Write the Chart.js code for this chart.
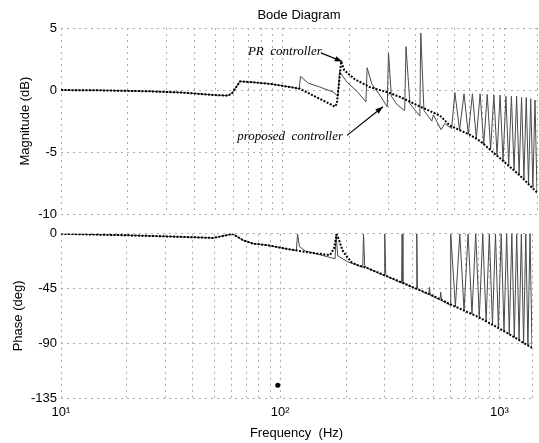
<!DOCTYPE html>
<html>
<head>
<meta charset="utf-8">
<script src="https://cdn.jsdelivr.net/npm/chart.js@4.4.1/dist/chart.umd.min.js"></script>
<style>
  html, body { margin: 0; padding: 0; background: #fff; }
  #wrap { position: relative; width: 539px; height: 443px; }
  #magBox { position: absolute; left: 0; top: 0; width: 539px; height: 226px; }
  #phaseBox { position: absolute; left: 0; top: 222px; width: 539px; height: 221px; }
</style>
</head>
<body>
<div id="wrap">
  <div id="magBox"><canvas id="magChart"></canvas></div>
  <div id="phaseBox"><canvas id="phaseChart"></canvas></div>
</div>
<script>
// PR controller, magnitude (dB)
const prMagFreq = [10, 15, 25, 35, 49.5, 56.8, 59.2, 64.3, 71.3, 87.6, 108, 120, 147, 165, 172, 176, 180, 184, 190, 212, 248, 300, 339, 420, 514, 570, 700, 779, 960, 1181, 1409];
const prMag = [0, -0.02, -0.1, -0.2, -0.4, -0.45, -0.25, 0.7, 0.65, 0.5, 0.25, 0.1, -0.7, -1.15, -1.35, -1.1, 0.6, 2.3, 1.6, 0.87, 0.24, -0.2, -0.55, -1.35, -2.06, -2.86, -3.6, -4.1, -5.5, -6.9, -8.25];

// proposed controller, magnitude (dB)
const propMagFreq = [10, 15, 25, 35, 49.5, 56.8, 59.2, 64.3, 71.3, 87.6, 108, 119, 120.5, 131, 147, 169, 178, 181, 195, 217, 238, 241, 253, 275, 297, 301, 310, 330, 356, 361, 376, 400, 417, 421, 435, 472, 480, 520, 540, 580,
  600, 630, 660, 690, 720, 750, 780, 810, 840, 870, 900, 930, 960, 990, 1020, 1050, 1080, 1110, 1140, 1170, 1200, 1230, 1260, 1290, 1320, 1350, 1380, 1409];
const propMag = [0, -0.02, -0.1, -0.2, -0.4, -0.45, -0.25, 0.7, 0.65, 0.5, 0.25, 0.1, 1.1, 0.55, 0.25, -0.15, -0.5, 1.5, 0.65, -0.1, -0.95, 1.8, 0.5, -0.4, -1.35, 3.0, -0.5, -1.2, -1.65, 3.5, -1.1, -1.7, -2.1, 4.6, -1.65, -2.5, -2.0, -3.2, -2.7, -3.1,
  -0.2, -3.2, -0.3, -3.55, -0.3, -3.9, -0.3, -4.35, -0.35, -4.75, -0.4, -5.25, -0.4, -5.7, -0.5, -6.05, -0.5, -6.4, -0.5, -6.8, -0.6, -7.15, -0.6, -7.5, -0.7, -7.85, -0.8, -8.3];

// PR controller, phase (deg)
const prPhaseFreq = [10, 20, 35, 49.5, 56.8, 60.5, 67.9, 75, 87.6, 108, 137, 160, 169, 176, 181, 186, 192, 202, 212, 225, 248, 306, 375, 499, 614, 800, 1060, 1409];
const prPhase = [0, -1.2, -2.5, -3.4, -1.2, 0, -5.4, -8, -9.4, -12.5, -15.5, -17, -17.4, -12, -0.5, -5.5, -13.4, -19, -23.5, -25.7, -28, -34.8, -41.5, -51, -59, -68.3, -80.4, -93.8];

// proposed controller, phase (deg)
const propPhaseFreq = [10, 20, 35, 49.5, 56.8, 60.5, 67.9, 75, 87.6, 108, 118.5, 120, 122.5, 130, 150, 172, 178, 180, 183, 202, 238, 240, 243, 248, 298, 300, 303, 306, 358, 360, 363, 375, 418, 420, 423, 440, 476, 480, 484, 536, 540, 545, 598,
  600, 630, 660, 690, 720, 750, 780, 810, 840, 870, 900, 930, 960, 990, 1020, 1050, 1080, 1110, 1140, 1170, 1200, 1230, 1260, 1290, 1320, 1350, 1380, 1409];
const propPhase = [0, -1.2, -2.5, -3.4, -1.2, 0, -5.4, -8, -9.4, -12.5, -13.8, 0, -10.5, -14, -17, -19.8, -20.5, 0, -18, -22.8, -27.5, 0, -26, -28, -34.3, 0, -33, -34.8, -40.5, 0, -39.5, -41.5, -45.5, 0, -44.5, -47, -50, -44, -50.5, -54.3, -48, -54.8, -58.8,
  0, -59.9, 0, -63.1, 0, -66, 0, -68.8, 0, -72, 0, -74.8, 0, -77.5, 0, -80, 0, -82.6, 0, -85.1, 0, -87.4, 0, -89.7, 0, -91.7, 0, -93.8];

// stray dot on the scan
const dotFreq = [97.5];
const dotPhase = [-124.5];

// axis ticks
const freqTicks = [10, 20, 30, 40, 50, 60, 70, 80, 90, 100, 200, 300, 400, 500, 600, 700, 800, 900, 1000, 1409];
const freqMajor = [10, 100, 1000];
const freqMajorLabels = ["10\u00B9", "10\u00B2", "10\u00B3"];
const magTicks = [-10, -5, 0, 5];
const phaseTicks = [-135, -90, -45, 0];

// annotations (freq Hz, dB)
const noteText = ["PR  controller", "proposed  controller"];
const noteFreq = [69.8, 62.4];
const noteDb = [3.1, -3.73];
const arrowFrom = [[149, 3.0], [195.6, -3.65]];
const arrowTo = [[186, 2.3], [284, -1.35]];

const FONT = "'Liberation Sans', Arial, sans-serif";
const gridColor = "#ababab";

function pts(xs, ys) {
  return xs.map((x, i) => ({ x: x, y: ys[i] }));
}

function xScale(showLabels) {
  return {
    type: "logarithmic",
    min: 10,
    max: 1409,
    afterBuildTicks: (scale) => {
      scale.ticks = freqTicks.map((v) => ({ value: v }));
    },
    afterFit: (scale) => {
      scale.height = showLabels ? 45 : 0;
    },
    grid: { color: gridColor, drawTicks: false },
    border: { display: false, dash: [2, 4] },
    ticks: {
      display: showLabels,
      autoSkip: false,
      maxRotation: 0,
      padding: 7,
      color: "#000",
      font: { family: FONT, size: 13 },
      callback: function (value) {
        const i = freqMajor.indexOf(value);
        return i >= 0 ? freqMajorLabels[i] : "";
      },
    },
    title: {
      display: showLabels,
      text: "Frequency  (Hz)",
      color: "#000",
      font: { family: FONT, size: 13 },
      padding: { top: 0, bottom: 2 },
    },
  };
}

function yScale(ticks, label, titlePad) {
  return {
    min: ticks[0],
    max: ticks[ticks.length - 1],
    afterBuildTicks: (scale) => {
      scale.ticks = ticks.map((v) => ({ value: v }));
    },
    afterFit: (scale) => {
      scale.width = 61;
    },
    grid: { color: gridColor, drawTicks: false },
    border: { display: false, dash: [2, 4] },
    ticks: {
      padding: 4,
      color: "#000",
      font: { family: FONT, size: 13 },
    },
    title: {
      display: true,
      text: label,
      color: "#000",
      font: { family: FONT, size: 13 },
      padding: { top: titlePad, bottom: 0 },
    },
  };
}

const notesPlugin = {
  id: "bodeNotes",
  afterDatasetsDraw(chart) {
    const { ctx } = chart;
    const x = chart.scales.x;
    const y = chart.scales.y;
    ctx.save();
    ctx.fillStyle = "#000";
    ctx.strokeStyle = "#000";
    ctx.font = "italic 13px 'Liberation Serif', 'Times New Roman', serif";
    ctx.textBaseline = "middle";
    noteText.forEach((t, i) => {
      ctx.fillText(t, x.getPixelForValue(noteFreq[i]), y.getPixelForValue(noteDb[i]));
    });
    arrowFrom.forEach((a, i) => {
      const x0 = x.getPixelForValue(a[0]), y0 = y.getPixelForValue(a[1]);
      const x1 = x.getPixelForValue(arrowTo[i][0]), y1 = y.getPixelForValue(arrowTo[i][1]);
      const ang = Math.atan2(y1 - y0, x1 - x0);
      ctx.lineWidth = 1.2;
      ctx.beginPath();
      ctx.moveTo(x0, y0);
      ctx.lineTo(x1, y1);
      ctx.stroke();
      ctx.beginPath();
      ctx.moveTo(x1, y1);
      ctx.lineTo(x1 - 8 * Math.cos(ang - 0.35), y1 - 8 * Math.sin(ang - 0.35));
      ctx.lineTo(x1 - 8 * Math.cos(ang + 0.35), y1 - 8 * Math.sin(ang + 0.35));
      ctx.closePath();
      ctx.fill();
    });
    ctx.restore();
  },
};

const prStyle = {
  borderColor: "#000",
  borderWidth: 2,
  borderDash: [2, 1.5],
  pointRadius: 0,
  tension: 0,
};
const propStyle = {
  borderColor: "#4a4a4a",
  borderWidth: 1,
  pointRadius: 0,
  tension: 0,
};

new Chart(document.getElementById("magChart"), {
  type: "line",
  data: {
    datasets: [
      Object.assign({ label: "PR controller", data: pts(prMagFreq, prMag) }, prStyle),
      Object.assign({ label: "proposed controller", data: pts(propMagFreq, propMag) }, propStyle),
    ],
  },
  options: {
    responsive: true,
    maintainAspectRatio: false,
    animation: false,
    layout: { padding: { left: 0, right: 2, top: 0, bottom: 8 } },
    scales: {
      x: xScale(false),
      y: yScale(magTicks, "Magnitude (dB)", 18),
    },
    plugins: {
      legend: { display: false },
      tooltip: { enabled: false },
      title: {
        display: true,
        text: "Bode Diagram",
        fullSize: false,
        color: "#000",
        font: { family: FONT, size: 13, weight: "normal" },
        padding: { top: 7.2, bottom: 5.2 },
      },
    },
  },
  plugins: [notesPlugin],
});

new Chart(document.getElementById("phaseChart"), {
  type: "line",
  data: {
    datasets: [
      Object.assign({ label: "PR controller", data: pts(prPhaseFreq, prPhase) }, prStyle),
      Object.assign({ label: "proposed controller", data: pts(propPhaseFreq, propPhase) }, propStyle),
      {
        label: "dot",
        data: pts(dotFreq, dotPhase),
        showLine: false,
        pointRadius: 2.5,
        pointBackgroundColor: "#000",
        pointBorderWidth: 0,
      },
    ],
  },
  options: {
    responsive: true,
    maintainAspectRatio: false,
    animation: false,
    layout: { padding: { left: 0, right: 2, top: 8, bottom: 0 } },
    scales: {
      x: xScale(true),
      y: yScale(phaseTicks, "Phase (deg)", 11),
    },
    plugins: {
      legend: { display: false },
      tooltip: { enabled: false },
    },
  },
});
</script>
</body>
</html>
